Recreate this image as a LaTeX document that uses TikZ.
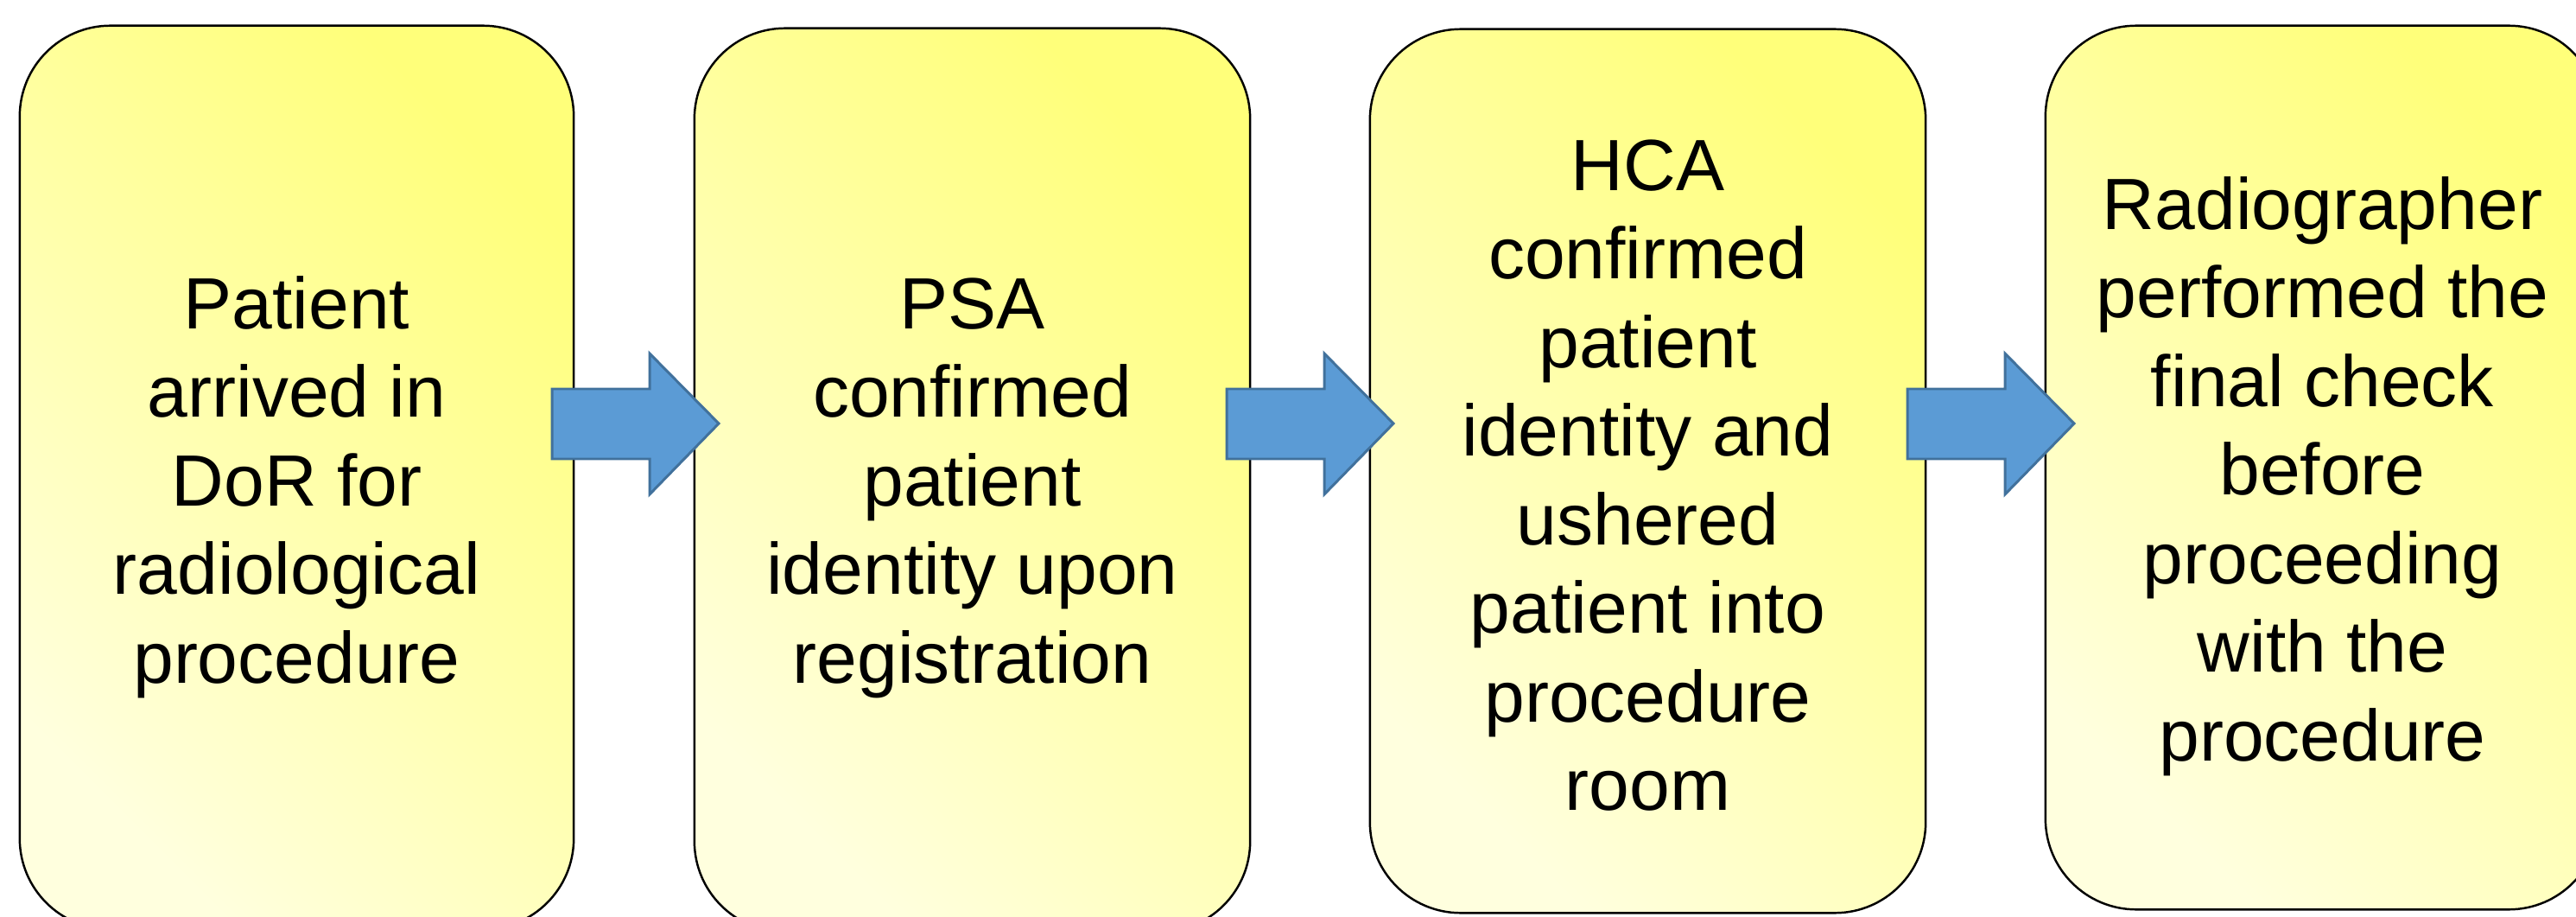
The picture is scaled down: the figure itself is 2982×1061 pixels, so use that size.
\documentclass[tikz,border=0pt]{standalone}
\usepackage{fontspec}
\setmainfont{Liberation Sans}
\definecolor{yelA}{RGB}{255,255,122}
\definecolor{yelB}{RGB}{255,255,222}
\definecolor{arrowfill}{HTML}{5B9BD5}
\definecolor{arrowline}{HTML}{41719C}
\begin{document}
\begin{tikzpicture}[x=0.01cm,y=-0.01cm,
  stepbox/.style={rectangle,draw=black,line width=0.7pt,rounded corners=1.05cm,
    inner sep=0pt,outer sep=0pt,top color=yelA,bottom color=yelB,shading angle=-45},
  steptext/.style={font=\fontsize{23.9}{29.16}\selectfont,align=center,
    inner sep=0pt,outer sep=0pt,anchor=north},
  blockarrow/.style={fill=arrowfill,draw=arrowline,line width=0.85pt,line join=miter}]
\useasboundingbox (0,0) rectangle (2982,1061);
\clip (0,0) rectangle (2982,1061);
% boxes
\node[stepbox,minimum width=6.41cm,minimum height=10.45cm] (b1) at (343.5,552.5) {};
\node[stepbox,minimum width=6.43cm,minimum height=10.45cm] (b2) at (1125.5,555.5) {};
\node[stepbox,minimum width=6.43cm,minimum height=10.22cm] (b3) at (1907.5,545) {};
\node[stepbox,minimum width=6.41cm,minimum height=10.22cm] (b4) at (2688.5,541) {};
% texts
\node[steptext] (t1) at (343.5,280) {\rule{0pt}{1cm}Patient\\arrived in\\DoR for\\radiological\\procedure};
\node[steptext] (t2) at (1125.5,280) {\rule{0pt}{1cm}PSA\\confirmed\\patient\\identity upon\\registration};
\node[steptext] (t3) at (1907.5,120) {\rule{0pt}{1cm}HCA\\confirmed\\patient\\identity and\\ushered\\patient into\\procedure\\room};
\node[steptext] (t4) at (2688.5,165) {\rule{0pt}{1cm}Radiographer\\performed the\\final check\\before\\proceeding\\with the\\procedure};
% block arrows
\foreach \xo in {639,1420,2208}{
  \draw[blockarrow] (\xo,450) -- ++(113,0) -- ++(0,-41) -- ++(80,81) -- ++(-80,82)
    -- ++(0,-41) -- ++(-113,0) -- cycle;
}
\end{tikzpicture}
\end{document}
